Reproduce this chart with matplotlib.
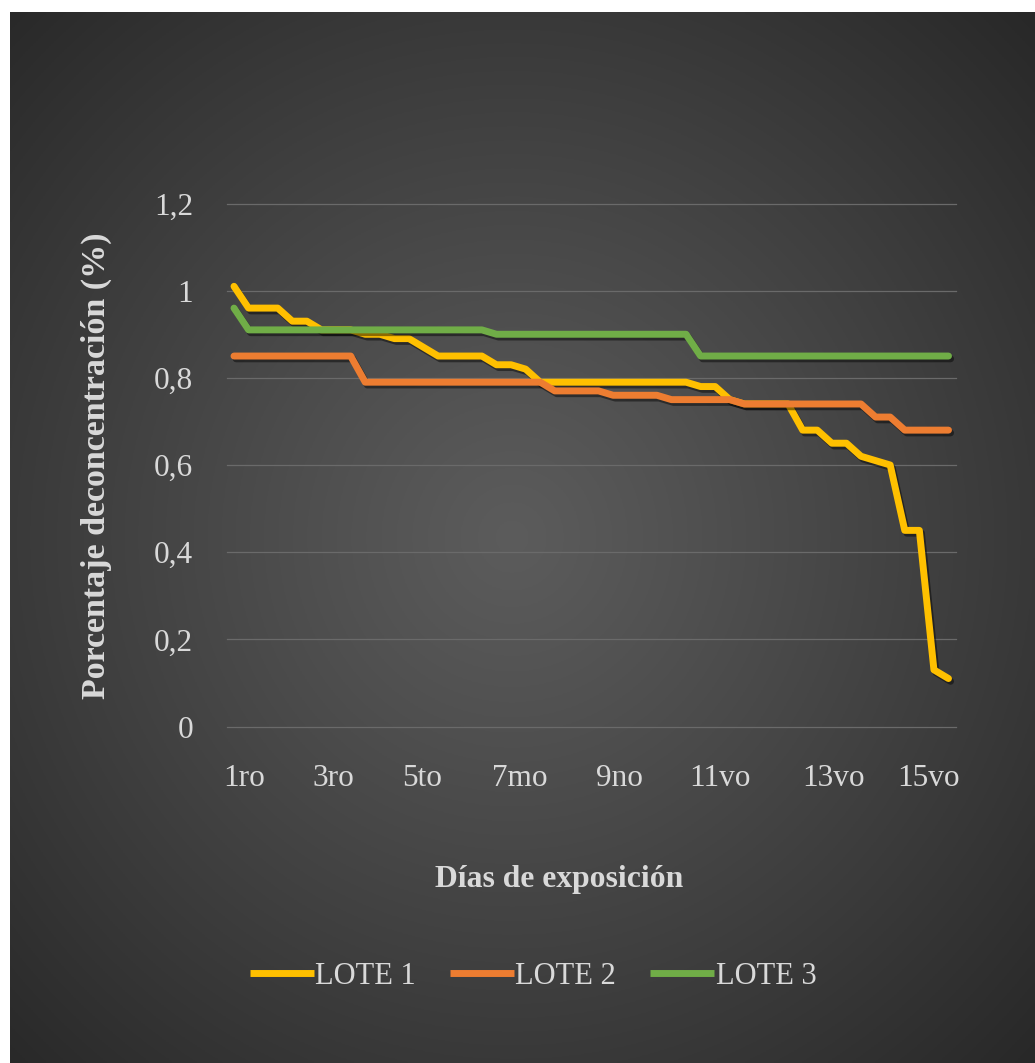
import numpy as np
import matplotlib
matplotlib.use("Agg")
import matplotlib.pyplot as plt
import matplotlib.patheffects as pe

# Daily concentration readings per batch (50 readings over 15 days)
lote1 = [1.01, 0.96, 0.96, 0.96, 0.93, 0.93, 0.91, 0.91, 0.91, 0.90,
         0.90, 0.89, 0.89, 0.87, 0.85, 0.85, 0.85, 0.85, 0.83, 0.83,
         0.82, 0.79, 0.79, 0.79, 0.79, 0.79, 0.79, 0.79, 0.79, 0.79,
         0.79, 0.79, 0.78, 0.78, 0.75, 0.74, 0.74, 0.74, 0.74, 0.68,
         0.68, 0.65, 0.65, 0.62, 0.61, 0.60, 0.45, 0.45, 0.13, 0.11]
lote2 = [0.85, 0.85, 0.85, 0.85, 0.85, 0.85, 0.85, 0.85, 0.85, 0.79,
         0.79, 0.79, 0.79, 0.79, 0.79, 0.79, 0.79, 0.79, 0.79, 0.79,
         0.79, 0.79, 0.77, 0.77, 0.77, 0.77, 0.76, 0.76, 0.76, 0.76,
         0.75, 0.75, 0.75, 0.75, 0.75, 0.74, 0.74, 0.74, 0.74, 0.74,
         0.74, 0.74, 0.74, 0.74, 0.71, 0.71, 0.68, 0.68, 0.68, 0.68]
lote3 = [0.96, 0.91, 0.91, 0.91, 0.91, 0.91, 0.91, 0.91, 0.91, 0.91,
         0.91, 0.91, 0.91, 0.91, 0.91, 0.91, 0.91, 0.91, 0.90, 0.90,
         0.90, 0.90, 0.90, 0.90, 0.90, 0.90, 0.90, 0.90, 0.90, 0.90,
         0.90, 0.90, 0.85, 0.85, 0.85, 0.85, 0.85, 0.85, 0.85, 0.85,
         0.85, 0.85, 0.85, 0.85, 0.85, 0.85, 0.85, 0.85, 0.85, 0.85]

series_names = ["LOTE 1", "LOTE 2", "LOTE 3"]
series_colors = ["#FFC000", "#ED7D31", "#70AD47"]

dias = ["1ro", "3ro", "5to", "7mo", "9no", "11vo", "13vo", "15vo"]
dias_pos = [0.72, 6.8, 12.9, 19.6, 26.4, 33.3, 41.1, 47.6]

y_ticks = [0, 0.2, 0.4, 0.6, 0.8, 1.0, 1.2]
y_labels = ["0", "0,2", "0,4", "0,6", "0,8", "1", "1,2"]

W, H = 1035, 1063
fig = plt.figure(figsize=(W / 100, H / 100), dpi=100, facecolor="white")
serif = ["Liberation Serif", "DejaVu Serif"]
text_col = "#d9d9d9"

# Dark radial-gradient chart background
bg = fig.add_axes([10 / W, 0, 1 - 10 / W, 1 - 12 / H], zorder=-5)
gx, gy = np.meshgrid(np.linspace(0, 1, 400), np.linspace(0, 1, 400))
r = np.sqrt((gx - 0.49) ** 2 + (gy - 0.50) ** 2)
t = np.clip(r / 0.72, 0, 1) ** 1.1
c_in, c_out = 0.36, 0.155
g = c_in - (c_in - c_out) * t
bg.imshow(np.dstack([g, g, g]), extent=[0, 1, 0, 1], aspect="auto", origin="lower")
bg.set_axis_off()

# Plot area
left, right = 226.7 / W, 955.8 / W
bottom, top = 1 - 726.5 / H, 1 - 203.5 / H
ax = fig.add_axes([left, bottom, right - left, top - bottom])
ax.patch.set_alpha(0)
for s in ax.spines.values():
    s.set_visible(False)

x = np.arange(len(lote1))
shadow = [pe.SimpleLineShadow(offset=(1.5, -2.0), shadow_color="black", alpha=0.45), pe.Normal()]
for vals, name, col in zip([lote1, lote2, lote3], series_names, series_colors):
    ax.plot(x, vals, color=col, lw=5.0, solid_capstyle="round", solid_joinstyle="round",
            label=name, path_effects=shadow, zorder=3)

ax.set_xlim(-0.5, len(lote1) - 0.5)
ax.set_ylim(0, 1.2)
ax.set_yticks(y_ticks)
ax.set_yticklabels(y_labels)
ax.set_xticks(dias_pos)
ax.set_xticklabels(dias)
ax.tick_params(axis="both", length=0, colors=text_col, labelsize=22.5)
ax.tick_params(axis="y", pad=24)
ax.tick_params(axis="x", pad=27)
for lab in ax.get_xticklabels() + ax.get_yticklabels():
    lab.set_family(serif)
ax.grid(axis="y", color="#6a6a6a", lw=0.9, zorder=1)
for gl in ax.get_ygridlines():
    gl.set_clip_on(False)
ax.set_axisbelow(True)

fig.text(559 / W, 1 - 880 / H, "Días de exposición", ha="center", va="center",
         color=text_col, fontsize=22.8, fontweight="bold", family=serif)
fig.text(96 / W, 1 - 466 / H, "Porcentaje deconcentración (%)", ha="center", va="center",
         rotation=90, color=text_col, fontsize=24.5, fontweight="bold", family=serif)

leg = fig.legend(loc="center", bbox_to_anchor=(533 / W, 1 - 976 / H), ncol=3, frameon=False,
                 prop={"family": serif, "size": 22}, handlelength=2.1, handletextpad=0.05,
                 columnspacing=1.1)
for txt in leg.get_texts():
    txt.set_color(text_col)
for h in leg.legend_handles:
    h.set_path_effects([])
    h.set_solid_capstyle("butt")

fig.savefig("out.png", dpi=100, facecolor="white")
